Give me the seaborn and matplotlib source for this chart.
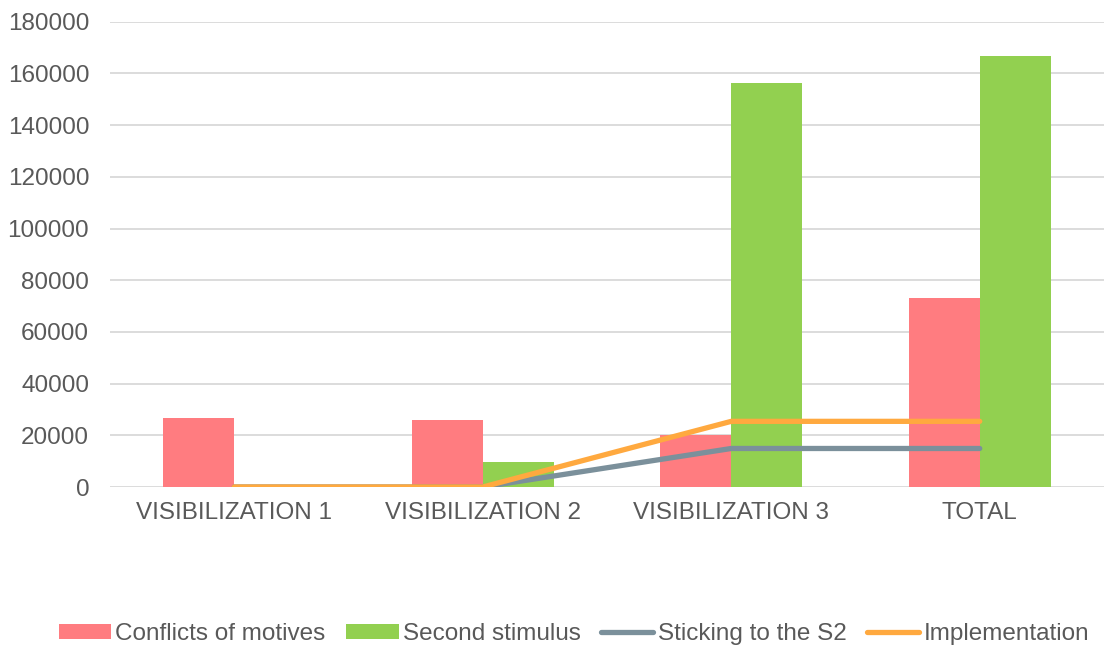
import matplotlib
matplotlib.use("Agg")
import matplotlib.pyplot as plt
import seaborn as sns
import pandas as pd
from matplotlib.patches import Patch
from matplotlib.lines import Line2D

# Data
categories = ["VISIBILIZATION 1", "VISIBILIZATION 2", "VISIBILIZATION 3", "TOTAL"]
conflicts_of_motives = [26600, 25900, 20300, 73000]
second_stimulus = [0, 9800, 156300, 166600]
sticking_to_s2 = [0, 0, 14900, 14900]
implementation = [0, 0, 25400, 25400]
y_ticks = [0, 20000, 40000, 60000, 80000, 100000, 120000, 140000, 160000, 180000]

bar_names = ["Conflicts of motives", "Second stimulus"]
line_names = ["Sticking to the S2", "Implementation"]

colors = {
    "Conflicts of motives": "#FF7C80",
    "Second stimulus": "#92D050",
    "Sticking to the S2": "#7B909B",
    "Implementation": "#FFA93F",
}

FS = 17.5

sns.set_theme(style="white")
plt.rcParams["font.family"] = ["Liberation Sans", "DejaVu Sans"]

bars_df = pd.DataFrame({
    "category": categories * 2,
    "series": [bar_names[0]] * 4 + [bar_names[1]] * 4,
    "value": conflicts_of_motives + second_stimulus,
})

fig = plt.figure(figsize=(11.05, 6.49), dpi=100)
ax = fig.add_axes([110 / 1105, 1 - 487 / 649, (1104 - 110) / 1105, (487 - 21.7) / 649])

sns.barplot(
    data=bars_df, x="category", y="value", hue="series", order=categories,
    hue_order=bar_names, palette=colors, width=0.572, gap=0, saturation=1,
    edgecolor="none", linewidth=0, legend=False, ax=ax, zorder=2,
)

for name, vals in [(line_names[0], sticking_to_s2), (line_names[1], implementation)]:
    line_df = pd.DataFrame({"category": categories, "value": vals})
    sns.lineplot(
        data=line_df, x="category", y="value", color=colors[name],
        linewidth=3.8, solid_capstyle="round", solid_joinstyle="round",
        ax=ax, zorder=3, legend=False,
    )

ax.set_xlim(-0.5, 3.5)
ax.set_ylim(0, 180000)
ax.set_yticks(y_ticks)
ax.set_yticklabels([str(v) for v in y_ticks])
ax.set_xlabel("")
ax.set_ylabel("")
ax.grid(axis="y", color="#D9D9D9", linewidth=1.3, zorder=0)
ax.set_axisbelow(True)
for s in ax.spines.values():
    s.set_visible(False)
ax.tick_params(axis="both", length=0, labelsize=FS, labelcolor="#595959")
ax.tick_params(axis="y", pad=15)
ax.tick_params(axis="x", pad=10.5)

handles = [
    Patch(facecolor=colors[bar_names[0]], edgecolor="none", label=bar_names[0]),
    Patch(facecolor=colors[bar_names[1]], edgecolor="none", label=bar_names[1]),
    Line2D([0], [0], color=colors[line_names[0]], linewidth=3.8, solid_capstyle="round", label=line_names[0]),
    Line2D([0], [0], color=colors[line_names[1]], linewidth=3.8, solid_capstyle="round", label=line_names[1]),
]
fig.legend(
    handles=handles, loc="center", bbox_to_anchor=(574 / 1105, 1 - 634 / 649),
    ncol=4, frameon=False, fontsize=FS, labelcolor="#595959",
    handlelength=2.15, handleheight=0.55, handletextpad=0.17, columnspacing=0.85,
    borderaxespad=0, borderpad=0,
)

fig.savefig("out.png", dpi=100, facecolor="white")
